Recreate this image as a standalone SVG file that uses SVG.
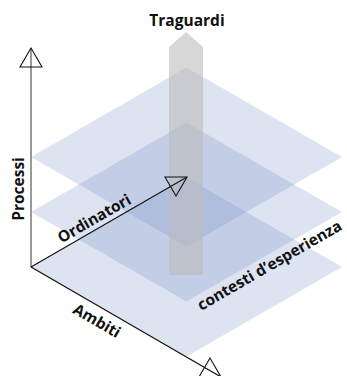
<svg xmlns="http://www.w3.org/2000/svg" width="347" height="376" viewBox="0 0 347 376">
  <style>
    .plane { fill: #7891c8; fill-opacity: 0.25; }
    .label { font-family: "Open Sans", "Noto Sans", "Liberation Sans", sans-serif; font-weight: bold; font-size: 15.5px; fill: #111; }
    .axis { fill: none; stroke: #111; stroke-width: 1.2; }
    .head { fill: none; stroke: #111; stroke-width: 1.1; stroke-linejoin: miter; }
  </style>
  <defs>
    <!-- one isometric layer, centred on its own origin -->
    <polygon id="layer" points="0,-89.5 155.5,0 0,89.5 -155.5,0"/>
  </defs>

  <!-- stacked layers -->
  <g id="layers">
    <use href="#layer" class="plane" x="186.5" y="267"/>
    <use href="#layer" class="plane" x="186.5" y="212"/>
    <use href="#layer" class="plane" x="186.5" y="157"/>
  </g>

  <!-- upward column -->
  <g id="traguardi">
    <polygon points="169,47 186,32 203,47 203,275 169,275" fill="#bababa" fill-opacity="0.58"/>
    <text class="label" x="187" y="26" text-anchor="middle">Traguardi</text>
  </g>

  <g id="connectors">
    <!-- vertical axis -->
    <line x1="31" y1="267" x2="31" y2="48" stroke="#808080" stroke-width="1.6"/>
    <polygon class="head" points="31,48 20,67 42,67"/>
    <!-- depth axis -->
    <line class="axis" x1="31" y1="267" x2="187" y2="177"/>
    <polygon class="head" points="165,177 187,177 176,196"/>
    <!-- horizontal axis -->
    <line class="axis" x1="31" y1="267" x2="221" y2="377"/>
    <polygon class="head" points="210,358 199,377 221,377"/>
  </g>

  <g id="processi">
    <text class="label" transform="translate(24,189) rotate(-90)" text-anchor="middle">Processi</text>
  </g>
  <g id="ordinatori">
    <text class="label" transform="translate(31,267) rotate(-30)" x="79" y="-5" text-anchor="middle">Ordinatori</text>
  </g>
  <g id="ambiti">
    <text class="label" transform="translate(31,267) rotate(30)" x="84" y="19" text-anchor="middle">Ambiti</text>
  </g>
  <g id="contesti">
    <text class="label" transform="translate(186.5,301.5) rotate(-30)" x="90" y="15.5" text-anchor="middle">contesti d’esperienza</text>
  </g>
</svg>
